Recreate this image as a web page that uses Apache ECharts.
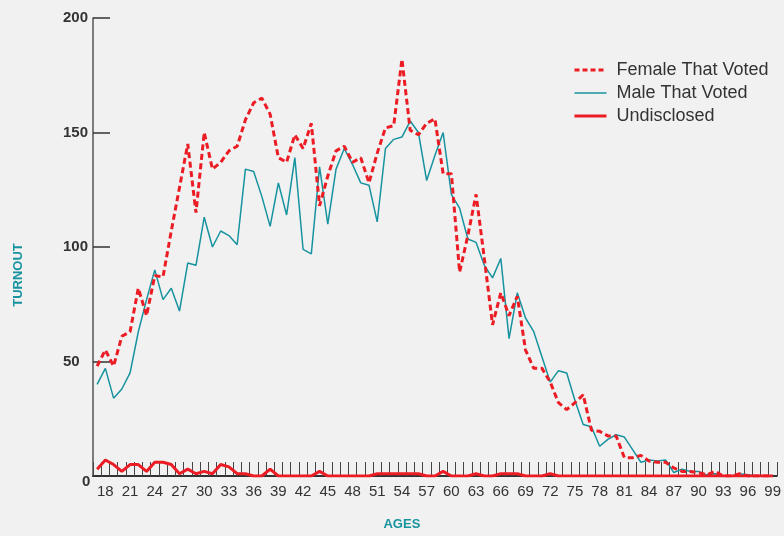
<!DOCTYPE html>
<html>
<head>
<meta charset="utf-8">
<script src="https://cdn.jsdelivr.net/npm/echarts@6/dist/echarts.min.js"></script>
<style>
  html, body { margin: 0; padding: 0; background: #f1f1f1; }
  #main { width: 784px; height: 536px; }
</style>
</head>
<body>
<div id="main"></div>
<script>
// ages on the x axis (17 has no label)
var ages = [17, 18, 19, 20, 21, 22, 23, 24, 25, 26, 27, 28, 29, 30, 31, 32, 33, 34, 35, 36,
  37, 38, 39, 40, 41, 42, 43, 44, 45, 46, 47, 48, 49, 50, 51, 52, 53, 54, 55, 56,
  57, 58, 59, 60, 61, 62, 63, 64, 65, 66, 67, 68, 69, 70, 71, 72, 73, 74, 75, 76,
  77, 78, 79, 80, 81, 82, 83, 84, 85, 86, 87, 88, 89, 90, 91, 92, 93, 94, 95, 96,
  97, 98, 99];

// labels that are printed under the axis
var ageLabels = [18, 21, 24, 27, 30, 33, 36, 39, 42, 45, 48, 51, 54, 57, 60, 63, 66, 69,
  72, 75, 78, 81, 84, 87, 90, 93, 96, 99];

var yTicks = [0, 50, 100, 150, 200];

var femaleVoted = [48, 55, 48, 61, 63, 82, 70, 87.5, 87, 107, 126, 145, 115, 150, 134, 137, 142, 144, 155.5, 163,
  165, 158, 139, 137, 149, 143, 154, 118, 131, 142, 144, 137, 139, 128, 141, 152, 153, 182, 151, 149,
  154, 156, 132, 132, 89, 105, 123, 95, 66, 80, 70, 78.5, 55, 47, 47, 41, 32, 29, 32, 35.5,
  20, 19.5, 17.5, 17.5, 8, 8, 9, 6.5, 6, 6, 3.5, 2, 2, 1.5, 0.5, 2, 0, 0, 1, 0,
  0, 0, 0];

var maleVoted = [40, 47, 34, 38, 45, 63, 77, 90, 77, 82, 72, 93, 92, 113, 100, 107, 105, 101, 134, 133,
  122, 109, 128, 114, 139, 99, 97, 135, 110, 134, 143, 136, 128, 127, 111, 143, 147, 148, 155, 150,
  129, 140, 150, 123, 117, 103.5, 102, 92, 86.5, 95, 60, 80, 69, 63, 52, 41, 46, 45, 33, 22.5,
  21.5, 13, 16, 18, 17, 11.5, 6, 7, 6.5, 7, 1.5, 3, 2, 2, 0.5, 1, 0, 0, 1, 0.5,
  0, 0, 0];

var undisclosed = [3, 7, 5, 2, 5, 5, 2, 6, 6, 5, 1, 3, 1, 2, 1, 5, 4, 1, 1, 0,
  0, 3, 0, 0, 0, 0, 0, 2, 0, 0, 0, 0, 0, 0, 1, 1, 1, 1, 1, 1,
  0, 0, 2, 0, 0, 0, 1, 0, 0, 1, 1, 1, 0, 0, 0, 1, 0, 0, 0, 0,
  0, 0, 0, 0, 0, 0, 0, 0, 0, 0, 0, 0, 0, 0, 0, 0, 0, 0, 0, 0,
  0, 0, 0];

var RED = '#ec1c24';
var TEAL = '#17939f';
var FONT = '"Liberation Sans", Arial, sans-serif';

var chart = echarts.init(document.getElementById('main'), null, { renderer: 'canvas' });

var option = {
  backgroundColor: '#f1f1f1',
  animation: false,
  grid: {
    left: 93,
    right: 5,
    top: 18,
    bottom: 60,
    containLabel: false
  },
  legend: {
    orient: 'vertical',
    left: 573,
    top: 61,
    padding: 0,
    itemWidth: 32,
    itemHeight: 17,
    itemGap: 5,
    // only the line, no dot in the key
    itemStyle: { opacity: 0 },
    data: [
      { name: 'Female That Voted', lineStyle: { width: 3, type: [5, 3] } },
      { name: 'Male That Voted', lineStyle: { width: 1.5 } },
      { name: 'Undisclosed', lineStyle: { width: 3 } }
    ],
    textStyle: {
      fontFamily: FONT,
      fontSize: 18,
      color: '#333',
      padding: [0, 0, 0, 5]
    }
  },
  xAxis: {
    type: 'category',
    data: ages,
    boundaryGap: true,
    name: 'AGES',
    nameLocation: 'middle',
    nameGap: 42,
    nameTextStyle: {
      color: TEAL,
      fontFamily: FONT,
      fontWeight: 'bold',
      fontSize: 13,
      padding: [0, 66, 0, 0]
    },
    axisLine: {
      lineStyle: { color: '#333', width: 2 }
    },
    axisTick: {
      show: true,
      inside: true,
      length: 14,
      interval: 0,
      lineStyle: { color: '#444', width: 1 }
    },
    axisLabel: {
      margin: 8,
      color: '#333',
      fontFamily: FONT,
      fontSize: 15,
      interval: function (index, value) {
        return ageLabels.indexOf(Number(value)) > -1;
      }
    },
    splitLine: { show: false }
  },
  yAxis: {
    type: 'value',
    min: yTicks[0],
    max: yTicks[yTicks.length - 1],
    interval: yTicks[1] - yTicks[0],
    name: 'TURNOUT',
    nameLocation: 'middle',
    nameGap: 68,
    nameRotate: 90,
    nameTextStyle: {
      color: TEAL,
      fontFamily: FONT,
      fontWeight: 'bold',
      fontSize: 13,
      padding: [0, 56, 0, 0]
    },
    axisLine: {
      show: true,
      lineStyle: { color: '#555', width: 1.5 }
    },
    axisTick: {
      show: true,
      inside: true,
      length: 17,
      lineStyle: { color: '#333', width: 1.5 }
    },
    axisLabel: {
      align: 'left',
      margin: 30,
      color: '#333',
      fontFamily: FONT,
      fontWeight: 'bold',
      fontSize: 15,
      formatter: function (v) {
        // the zero sits lower, next to the corner
        if (v === 0) {
          return '{z|0}';
        }
        return v;
      },
      rich: {
        z: {
          color: '#333',
          fontFamily: FONT,
          fontWeight: 'bold',
          fontSize: 15,
          padding: [12, 0, 0, 19]
        }
      }
    },
    splitLine: { show: false }
  },
  series: [
    {
      name: 'Male That Voted',
      type: 'line',
      data: maleVoted,
      symbol: 'none',
      lineStyle: { color: TEAL, width: 1.5 },
      itemStyle: { color: TEAL }
    },
    {
      name: 'Female That Voted',
      type: 'line',
      data: femaleVoted,
      symbol: 'none',
      lineStyle: { color: RED, width: 3, type: [6, 3.5] },
      itemStyle: { color: RED }
    },
    {
      name: 'Undisclosed',
      type: 'line',
      data: undisclosed,
      symbol: 'none',
      lineStyle: { color: RED, width: 3 },
      itemStyle: { color: RED }
    }
  ]
};

chart.setOption(option);
</script>
</body>
</html>
